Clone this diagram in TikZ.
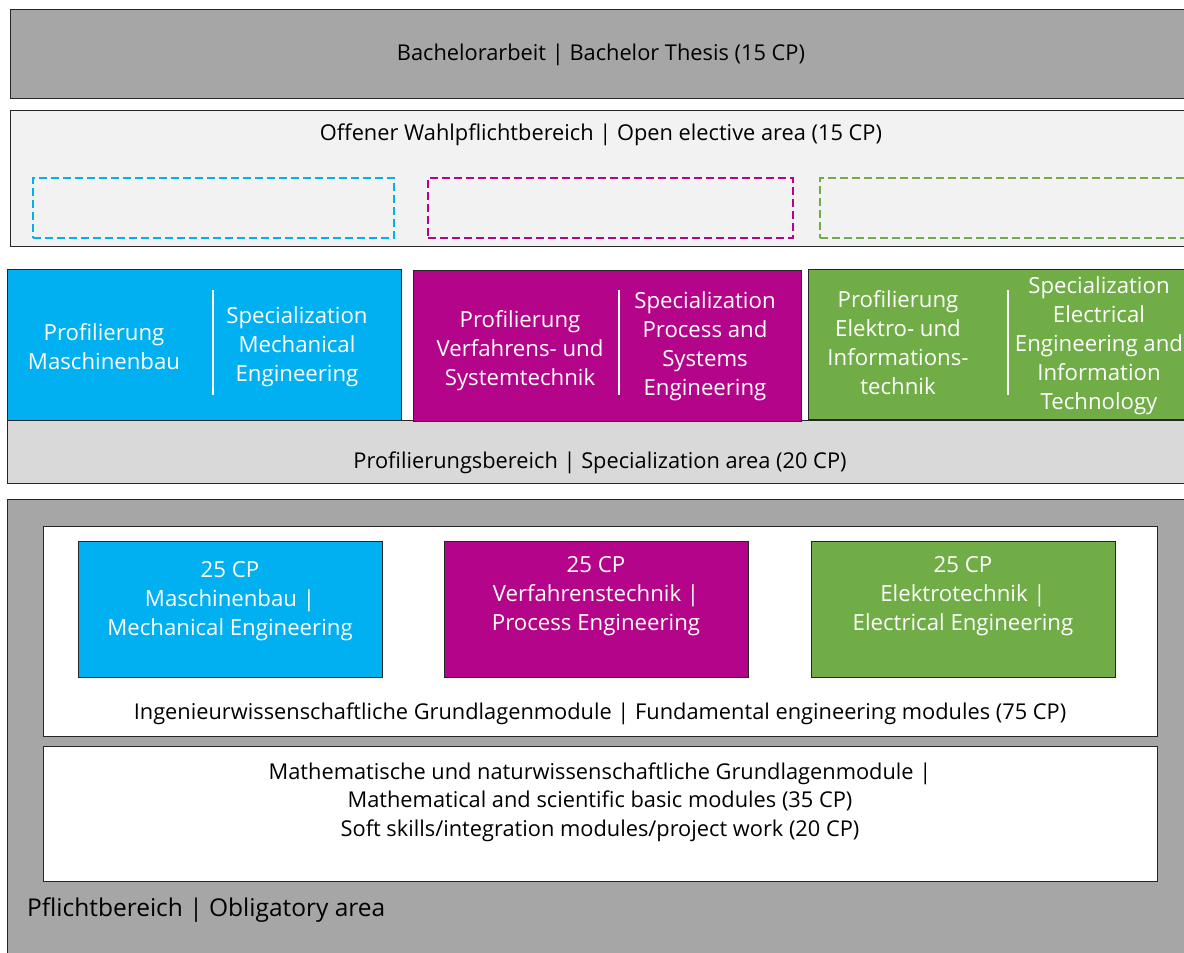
\documentclass[tikz,border=0pt]{standalone}
\usepackage{fontspec}
\setmainfont{Open Sans}
\definecolor{cblue}{HTML}{00B0F0}
\definecolor{cmag}{HTML}{B4058A}
\definecolor{cgreen}{HTML}{70AD47}
\definecolor{cgray}{HTML}{A6A6A6}
\definecolor{clight}{HTML}{F2F2F2}
\definecolor{cmid}{HTML}{D9D9D9}
\definecolor{cline}{HTML}{262626}
\tikzset{
  blk/.style={draw=cline, line width=1.3pt, anchor=north west, inner sep=0pt},
  dbox/.style={line width=2.2pt, dash pattern=on 8pt off 4pt, anchor=north west, inner sep=0pt, minimum height=60pt},
  btxt/.style={align=center, inner sep=0pt, text=black, font=\fontsize{21.8}{28.5}\selectfont},
  wtxt/.style={align=center, inner sep=0pt, text=white, font=\fontsize{22.2}{29}\selectfont},
  sep/.style={draw=white, line width=1.8pt},
}
\begin{document}
\begin{tikzpicture}[x=1pt, y=-1pt]
\clip (0,0) rectangle (1184,953);
\fill[white] (0,0) rectangle (1184,953);
% top rows
\node[blk, fill=cgray, minimum width=1190pt, minimum height=89pt] (thesis) at (10,9) {};
\node[btxt] (thesistxt) at (601,55) {Bachelorarbeit | Bachelor Thesis (15 CP)};
\node[blk, fill=clight, minimum width=1190pt, minimum height=136pt] (open) at (10,110) {};
\node[btxt] (opentxt) at (601,135) {Offener Wahlpflichtbereich | Open elective area (15 CP)};
\node[dbox, draw=cblue, minimum width=361pt] (d1) at (32,177) {};
\node[dbox, draw=cmag, minimum width=365pt] (d2) at (427,177) {};
\node[dbox, draw=cgreen, minimum width=380pt] (d3) at (819,177) {};
% specialization
\node[blk, fill=cmid, minimum width=1190pt, minimum height=63pt] (prof) at (7,420) {};
\node[btxt] (proftxt) at (600,463) {Profilierungsbereich | Specialization area (20 CP)};
\node[blk, fill=cblue, minimum width=394pt, minimum height=151pt] (s1) at (7,269) {};
\node[blk, fill=cmag, minimum width=388pt, minimum height=151pt] (s2) at (413,270) {};
\node[blk, fill=cgreen, minimum width=390pt, minimum height=150pt] (s3) at (808,269) {};
\coordinate (a1) at (213,290); \coordinate (b1) at (213,395);
\coordinate (a2) at (619,290); \coordinate (b2) at (619,395);
\coordinate (a3) at (1008,290); \coordinate (b3) at (1008,395);
\draw[sep] (a1) -- (b1);
\draw[sep] (a2) -- (b2);
\draw[sep] (a3) -- (b3);
\node[wtxt] (s1l) at (104,347) {Profilierung\\Maschinenbau};
\node[wtxt] (s1r) at (297,347) {Specialization\\Mechanical\\Engineering};
\node[wtxt] (s2l) at (520,351) {Profilierung\\Verfahrens- und\\Systemtechnik};
\node[wtxt] (s2r) at (705,346) {Specialization\\Process and\\Systems\\Engineering};
\node[wtxt] (s3l) at (898,343) {Profilierung\\Elektro- und\\Informations-\\technik};
\node[wtxt] (s3r) at (1099,346) {Specialization\\Electrical\\Engineering and\\Information\\Technology};
% obligatory
\node[blk, fill=cgray, minimum width=1190pt, minimum height=470pt] (pflicht) at (7,499) {};
\node[anchor=west, inner sep=0pt, font=\fontsize{24.5}{29}\selectfont] (pflichttxt) at (27,910) {Pflichtbereich | Obligatory area};
\node[blk, fill=white, minimum width=1114pt, minimum height=210pt] (ing) at (43,526) {};
\node[btxt] (ingtxt) at (600,714) {Ingenieurwissenschaftliche Grundlagenmodule | Fundamental engineering modules (75 CP)};
\node[blk, fill=cblue, minimum width=304pt, minimum height=136pt] (g1) at (78,541) {};
\node[blk, fill=cmag, minimum width=304pt, minimum height=136pt] (g2) at (444,541) {};
\node[blk, fill=cgreen, minimum width=304pt, minimum height=136pt] (g3) at (811,541) {};
\node[wtxt] (g1t) at (230,601) {25 CP\\Maschinenbau |\\Mechanical Engineering};
\node[wtxt] (g2t) at (596,596) {25 CP\\Verfahrenstechnik |\\Process Engineering};
\node[wtxt] (g3t) at (963,596) {25 CP\\Elektrotechnik |\\Electrical Engineering};
\node[blk, fill=white, minimum width=1114pt, minimum height=135pt] (math) at (43,746) {};
\node[btxt] (mathtxt) at (600,802) {Mathematische und naturwissenschaftliche Grundlagenmodule |\\Mathematical and scientific basic modules (35 CP)\\Soft skills/integration modules/project work (20 CP)};
\end{tikzpicture}
\end{document}
